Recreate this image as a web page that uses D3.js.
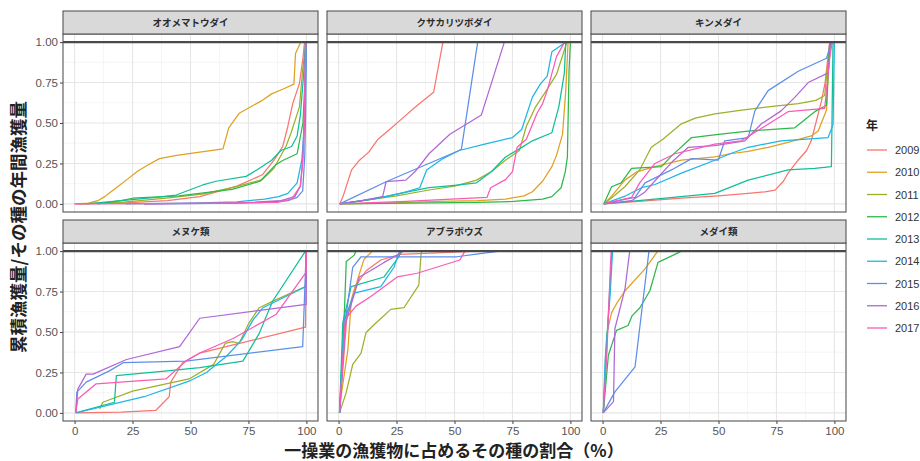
<!DOCTYPE html>
<html><head><meta charset="utf-8">
<script src="https://cdn.jsdelivr.net/npm/d3@7"></script>
<style>
body{margin:0;background:#fff;}
svg{display:block;}
</style></head>
<body>
<svg id="chart" width="920" height="461"></svg>
<script>
// ---------- data ----------
const years = ["2009","2010","2011","2012","2013","2014","2015","2016","2017"];
const yearColors = ["#F8766D","#E0A020","#9DB02A","#2DB84A","#10BF98","#1DB6E6","#5E8FE8","#B067D6","#F95BB5"];
const panelTitles = ["オオメマトウダイ","クサカリツボダイ","キンメダイ","メヌケ類","アブラボウズ","メダイ類"];
const xTicks = [0,25,50,75,100];
const yTicks = [0,0.25,0.5,0.75,1];
const yTickLabels = ["0.00","0.25","0.50","0.75","1.00"];

// each entry: [year, points [share %, cumulative fraction]]
const oomematoudai = [
  ["2009",[[0,0],[20,0.005],[40,0.02],[54,0.045],[70,0.11],[81,0.18],[86,0.27],[89.8,0.356],[92,0.48],[94.1,0.62],[97,0.745],[98.5,0.9],[99.2,1]]],
  ["2010",[[1.3,0],[6,0.005],[10,0.02],[13,0.045],[15,0.067],[18,0.1],[22.3,0.147],[27,0.2],[31.6,0.24],[36.6,0.28],[44,0.3],[54,0.32],[64,0.34],[66.5,0.47],[71,0.56],[76,0.6],[81,0.64],[85,0.68],[90,0.71],[94.6,0.74],[95.3,0.93],[97.4,0.995],[98,1]]],
  ["2011",[[2,0],[20,0.01],[39.5,0.036],[55,0.06],[68,0.1],[81,0.15],[86,0.22],[91.2,0.356],[93.4,0.44],[97,0.6],[98.4,0.83],[99.8,1]]],
  ["2012",[[10,0],[20,0.02],[25,0.035],[45,0.05],[68,0.09],[80,0.14],[86.6,0.24],[90,0.27],[96,0.31],[98.5,0.5],[99.5,0.8],[100,1]]],
  ["2013",[[5,0],[23.6,0.025],[35,0.04],[43.8,0.055],[55.3,0.117],[61,0.14],[74,0.17],[78.6,0.21],[85,0.27],[89,0.33],[93.6,0.355],[96,0.42],[97.4,0.55],[98.8,0.8],[99.7,1]]],
  ["2014",[[22,0],[50,0.005],[70,0.012],[82,0.03],[88,0.045],[92,0.065],[96,0.13],[98,0.27],[99.2,0.5],[100,1]]],
  ["2015",[[30,0],[60,0.003],[80,0.008],[92,0.02],[96,0.04],[98.4,0.08],[99.3,0.3],[99.7,0.6],[100,1]]],
  ["2016",[[30,0],[70,0.005],[89,0.02],[95,0.045],[97.4,0.11],[98.5,0.3],[99.2,0.62],[99.6,1]]],
  ["2017",[[0,0],[30,0.002],[60,0.005],[87.6,0.01],[93.6,0.03],[97.4,0.11],[98.4,0.25],[99,0.43],[99.7,1]]]
];
const kusakaritsubodai = [
  ["2009",[[0.5,0],[2,0.05],[5.6,0.21],[9,0.27],[13,0.32],[17,0.4],[22,0.46],[27.6,0.53],[34,0.61],[41,0.69],[45,1]]],
  ["2010",[[0.5,0],[20,0.005],[43,0.015],[60,0.02],[72,0.03],[80,0.05],[83.6,0.075],[88,0.14],[92,0.23],[94,0.3],[96.6,0.43],[98,0.7],[99,1]]],
  ["2011",[[0.5,0],[15,0.03],[25,0.05],[39,0.086],[50,0.11],[59.5,0.147],[66,0.2],[72,0.27],[78,0.33],[81,0.48],[85,0.6],[89.6,0.7],[94,0.8],[96.7,0.92],[98.5,1]]],
  ["2012",[[0.5,0],[30,0.005],[60,0.01],[75.5,0.015],[88,0.03],[92,0.045],[96,0.1],[97.8,0.2],[98.7,0.29],[99.4,0.82],[100,1]]],
  ["2013",[[0.5,0],[15,0.03],[25,0.06],[39,0.1],[50,0.115],[59.5,0.13],[66,0.2],[72,0.29],[78,0.34],[83.6,0.39],[92,0.44],[95,0.6],[97.4,0.81],[98,1]]],
  ["2014",[[0.5,0],[10,0.02],[20.5,0.045],[28,0.07],[35,0.1],[38,0.21],[45,0.28],[52,0.33],[63,0.37],[75,0.41],[79,0.46],[83.6,0.66],[87,0.74],[90,0.79],[92,0.94],[95,0.97],[98,1]]],
  ["2015",[[0.5,0],[20.5,0.137],[52,0.33],[53,0.34],[60,1]]],
  ["2016",[[0.5,0],[10,0.02],[19,0.045],[20.5,0.137],[29,0.147],[33,0.2],[39,0.31],[48,0.43],[61.6,0.55],[71.5,1]]],
  ["2017",[[0.5,0],[29,0.015],[64,0.04],[65.6,0.1],[72,0.15],[75,0.2],[77,0.35],[81,0.4],[85.6,0.56],[88,0.62],[90,0.7],[94,0.91],[97.5,1]]]
];
const kinmedai = [
  ["2009",[[0.5,0],[20,0.02],[34,0.035],[50,0.05],[62.8,0.065],[70,0.075],[74.4,0.085],[78,0.14],[80,0.19],[84.3,0.27],[88,0.33],[90,0.39],[92,0.5],[94.4,0.635],[96,0.75],[97.3,0.92],[98,1]]],
  ["2010",[[0.5,0],[4,0.05],[9.6,0.147],[15,0.2],[22.6,0.23],[34,0.27],[48.4,0.29],[55,0.31],[62.8,0.325],[71.4,0.35],[80,0.38],[90,0.42],[93,0.45],[96.6,0.58],[98,1]]],
  ["2011",[[0.5,0],[5,0.05],[9.6,0.106],[16,0.21],[21,0.35],[26,0.4],[34,0.495],[40,0.53],[48.4,0.556],[60,0.58],[71.4,0.6],[84.4,0.62],[92,0.64],[95.8,0.67],[98,1]]],
  ["2012",[[0.5,0],[3.9,0.106],[8,0.13],[12.5,0.22],[25.4,0.23],[30,0.3],[38.4,0.41],[50,0.43],[62.8,0.45],[82.9,0.47],[91.5,0.57],[96.6,0.61],[98,1]]],
  ["2013",[[0.5,0],[27,0.035],[48.4,0.065],[62.8,0.147],[80,0.21],[91.5,0.22],[98.7,0.23],[99.4,1]]],
  ["2014",[[0.5,0],[10,0.05],[16.8,0.1],[22.6,0.12],[34,0.19],[48.4,0.27],[55,0.31],[62.8,0.35],[77,0.39],[97.3,0.41],[99.4,0.49],[100,1]]],
  ["2015",[[0.5,0],[10,0.03],[14,0.04],[18.3,0.13],[29.7,0.21],[38.4,0.28],[49.9,0.27],[52.7,0.39],[62.8,0.41],[65.7,0.575],[71.4,0.7],[84.4,0.82],[96.6,0.9],[98.7,1]]],
  ["2016",[[0.5,0],[12.5,0.02],[18,0.07],[24,0.165],[30,0.26],[37,0.35],[48.4,0.36],[61.4,0.39],[68.5,0.495],[77,0.575],[83,0.66],[88.7,0.75],[97.3,0.81],[98.4,1]]],
  ["2017",[[0.5,0],[12.5,0.04],[16,0.13],[22.6,0.25],[31.2,0.31],[40,0.34],[48.4,0.37],[59.8,0.39],[70,0.48],[80,0.57],[95.8,0.59],[98,0.9],[99,1]]]
];
const menuke = [
  ["2009",[[1,0],[20,0.005],[35,0.015],[40.8,0.1],[41.5,0.19],[46.6,0.31],[54,0.37],[68.4,0.42],[99.6,0.53],[100,1]]],
  ["2011",[[10.8,0.025],[12.2,0.066],[25,0.135],[49.4,0.21],[60,0.3],[65,0.43],[68,0.44],[71,0.43],[75,0.55],[79.6,0.65],[87,0.7],[99.6,0.78],[100,1]]],
  ["2013",[[0.5,0],[17.2,0.066],[18,0.23],[40,0.26],[54,0.28],[72.6,0.32],[79.6,0.49],[85.4,0.69],[99.6,1]]],
  ["2014",[[0.5,0],[30,0.1],[50,0.2],[56.9,0.25],[65.5,0.35],[72,0.45],[77,0.575],[81.3,0.65],[99.6,0.78],[100,1]]],
  ["2015",[[0.5,0],[1,0.13],[2.2,0.147],[5,0.19],[15,0.26],[21,0.31],[48,0.32],[98.4,0.41],[99.9,1]]],
  ["2016",[[0.5,0],[1.4,0.147],[5,0.24],[8,0.24],[22.4,0.33],[45.3,0.41],[54,0.585],[99.9,0.67],[100,1]]],
  ["2017",[[0.5,0],[1.4,0.086],[9.3,0.18],[39.4,0.21],[48,0.32],[54,0.37],[68.4,0.46],[87,0.61],[99.9,0.87],[100,1]]]
];
const aburabouzu = [
  ["2009",[[0.4,0],[3.6,0.6],[7.1,0.78],[12,0.88],[18.2,0.945],[26.6,0.98],[45,0.99],[59.5,1]]],
  ["2010",[[0.4,0],[1.1,0.106],[4,0.39],[5.4,0.68],[8.3,0.83],[11,0.95],[14.6,1]]],
  ["2011",[[0.4,0],[3.3,0.127],[6.1,0.3],[9.7,0.37],[11.8,0.495],[15.4,0.546],[22.5,0.64],[28.2,0.65],[34.6,0.79],[35.6,0.986],[36,1]]],
  ["2012",[[0.4,0],[2.6,0.66],[3.3,0.935],[6.8,0.975],[7.5,1]]],
  ["2013",[[0.4,0],[1.8,0.556],[5.4,0.78],[19.6,0.84],[26,0.965],[27,1]]],
  ["2014",[[0.4,0],[2.5,0.577],[6.8,0.74],[18.2,0.78],[23.9,0.9],[26,0.99],[27,1]]],
  ["2015",[[0.4,0],[2.8,0.556],[6.1,0.9],[9.7,0.965],[51,0.965],[69.4,1]]],
  ["2016",[[0.4,0],[2.9,0.55],[9,0.84],[13.9,0.88],[19.6,0.93],[26.7,0.986],[28,1]]],
  ["2017",[[0.4,0],[2.9,0.58],[7.5,0.66],[13.9,0.72],[25.3,0.84],[33.9,0.863],[52.3,0.945],[54.5,1]]]
];
const medai = [
  ["2010",[[0.3,0],[1.8,0.49],[3.9,0.62],[6,0.675],[9.7,0.755],[18.3,0.89],[23.3,0.99],[24,1]]],
  ["2012",[[0.3,0],[2.5,0.356],[6,0.51],[11,0.54],[12.7,0.6],[16.1,0.65],[20.4,0.755],[23.9,0.93],[31.2,0.98],[34,1]]],
  ["2013",[[0.3,0],[1.1,0.21],[2.6,0.64],[4,1]]],
  ["2014",[[0.3,0],[1.1,0.33],[3.3,0.74],[4.3,1]]],
  ["2015",[[0.3,0],[5.3,0.13],[14,0.285],[20,1]]],
  ["2016",[[0.3,0],[4.7,0.07],[5.3,0.52],[9.7,0.77],[11.7,1]]],
  ["2017",[[0.3,0],[1.9,0.39],[3.3,0.88],[3.7,1]]]
];
const panelSeries = [oomematoudai, kusakaritsubodai, kinmedai, menuke, aburabouzu, medai];

const xTitle = "一操業の漁獲物に占めるその種の割合（%）";
const yTitle = "累積漁獲量/その種の年間漁獲量";
const legendTitle = "年";

// ---------- layout ----------
const svg = d3.select("#chart");
const JP = "'Noto Sans CJK JP','Noto Sans',sans-serif";
const NUM = "'Liberation Sans',Arial,sans-serif";
const colLeft = [63, 327, 591];
const panelW = 255;
const stripTop = [11, 220];
const stripH = 23;
const panelH = 178;
const color = d3.scaleOrdinal().domain(years).range(yearColors);

panelTitles.forEach((title, i) => {
  const r = Math.floor(i / 3), c = i % 3;
  const left = colLeft[c];
  const top = stripTop[r] + stripH;
  const bottom = top + panelH;
  const x = d3.scaleLinear().domain([-5, 105]).range([left, left + panelW]);
  const y = d3.scaleLinear().domain([-0.05, 1.05]).range([bottom, top]);
  const g = svg.append("g");

  g.append("rect").attr("x", left).attr("y", top).attr("width", panelW).attr("height", panelH).attr("fill", "#fff");
  const minorX = d3.range(0, 100, 25).map(v => v + 12.5);
  const minorY = d3.range(0, 1, 0.25).map(v => v + 0.125);
  g.selectAll(null).data(minorX).enter().append("line")
    .attr("x1", d => x(d)).attr("x2", d => x(d)).attr("y1", top).attr("y2", bottom)
    .attr("stroke", "#EFEFEF").attr("stroke-width", 0.6);
  g.selectAll(null).data(minorY).enter().append("line")
    .attr("x1", left).attr("x2", left + panelW).attr("y1", d => y(d)).attr("y2", d => y(d))
    .attr("stroke", "#EFEFEF").attr("stroke-width", 0.6);
  g.selectAll(null).data(xTicks).enter().append("line")
    .attr("x1", d => x(d)).attr("x2", d => x(d)).attr("y1", top).attr("y2", bottom)
    .attr("stroke", "#E6E6E6").attr("stroke-width", 1.1);
  g.selectAll(null).data(yTicks).enter().append("line")
    .attr("x1", left).attr("x2", left + panelW).attr("y1", d => y(d)).attr("y2", d => y(d))
    .attr("stroke", "#E6E6E6").attr("stroke-width", 1.1);

  const line = d3.line().x(d => x(d[0])).y(d => y(d[1]));
  g.selectAll(null).data(panelSeries[i]).enter().append("path")
    .attr("d", d => line(d[1]))
    .attr("fill", "none")
    .attr("stroke", d => color(d[0]))
    .attr("stroke-width", 1.25)
    .attr("stroke-linejoin", "round");

  g.append("line").attr("x1", left).attr("x2", left + panelW)
    .attr("y1", y(1)).attr("y2", y(1)).attr("stroke", "#4a4a4a").attr("stroke-width", 2.2);

  g.append("rect").attr("x", left).attr("y", top).attr("width", panelW).attr("height", panelH)
    .attr("fill", "none").attr("stroke", "#555").attr("stroke-width", 1.1);

  g.append("rect").attr("x", left).attr("y", stripTop[r]).attr("width", panelW).attr("height", stripH)
    .attr("fill", "#D9D9D9").attr("stroke", "#555").attr("stroke-width", 1.1);
  g.append("text").attr("x", left + panelW / 2).attr("y", stripTop[r] + stripH / 2 + 3.5)
    .attr("text-anchor", "middle").attr("font-family", JP).attr("font-size", 9.5)
    .attr("font-weight", "bold").attr("fill", "#2a2a2a").text(title);

  if (c === 0) {
    const ya = d3.axisLeft(y).tickValues(yTicks).tickFormat((d, k) => yTickLabels[k]).tickSize(3).tickPadding(2);
    const ag = svg.append("g").attr("transform", `translate(${left},0)`).call(ya);
    ag.select(".domain").remove();
    ag.selectAll("line").attr("stroke", "#444");
    ag.selectAll("text").attr("font-family", NUM).attr("font-size", 11.5).attr("fill", "#555");
  }
  if (r === 1) {
    const xa = d3.axisBottom(x).tickValues(xTicks).tickFormat(d3.format("d")).tickSize(3).tickPadding(3);
    const ag = svg.append("g").attr("transform", `translate(0,${bottom})`).call(xa);
    ag.select(".domain").remove();
    ag.selectAll("line").attr("stroke", "#444");
    ag.selectAll("text").attr("font-family", NUM).attr("font-size", 11.5).attr("fill", "#555");
  }
});

svg.append("text").attr("x", 454).attr("y", 457).attr("text-anchor", "middle")
  .attr("font-family", JP).attr("font-size", 17).attr("font-weight", "bold").attr("fill", "#222")
  .text(xTitle);
svg.append("text").attr("transform", "translate(25,227) rotate(-90)").attr("text-anchor", "middle")
  .attr("font-family", JP).attr("font-size", 17.5).attr("font-weight", "bold").attr("fill", "#222")
  .text(yTitle);

const lg = svg.append("g");
lg.append("text").attr("x", 866).attr("y", 130).attr("font-family", JP).attr("font-size", 12)
  .attr("font-weight", "bold").attr("fill", "#222").text(legendTitle);
const ly = d3.scalePoint().domain(years).range([150, 328]);
const items = lg.selectAll(null).data(years).enter().append("g")
  .attr("transform", d => `translate(0,${ly(d)})`);
items.append("line").attr("x1", 867).attr("x2", 887).attr("y1", 0).attr("y2", 0)
  .attr("stroke", d => color(d)).attr("stroke-width", 1.3);
items.append("text").attr("x", 895).attr("y", 4).attr("font-family", NUM).attr("font-size", 11)
  .attr("fill", "#333").text(d => d);
</script>
</body></html>
